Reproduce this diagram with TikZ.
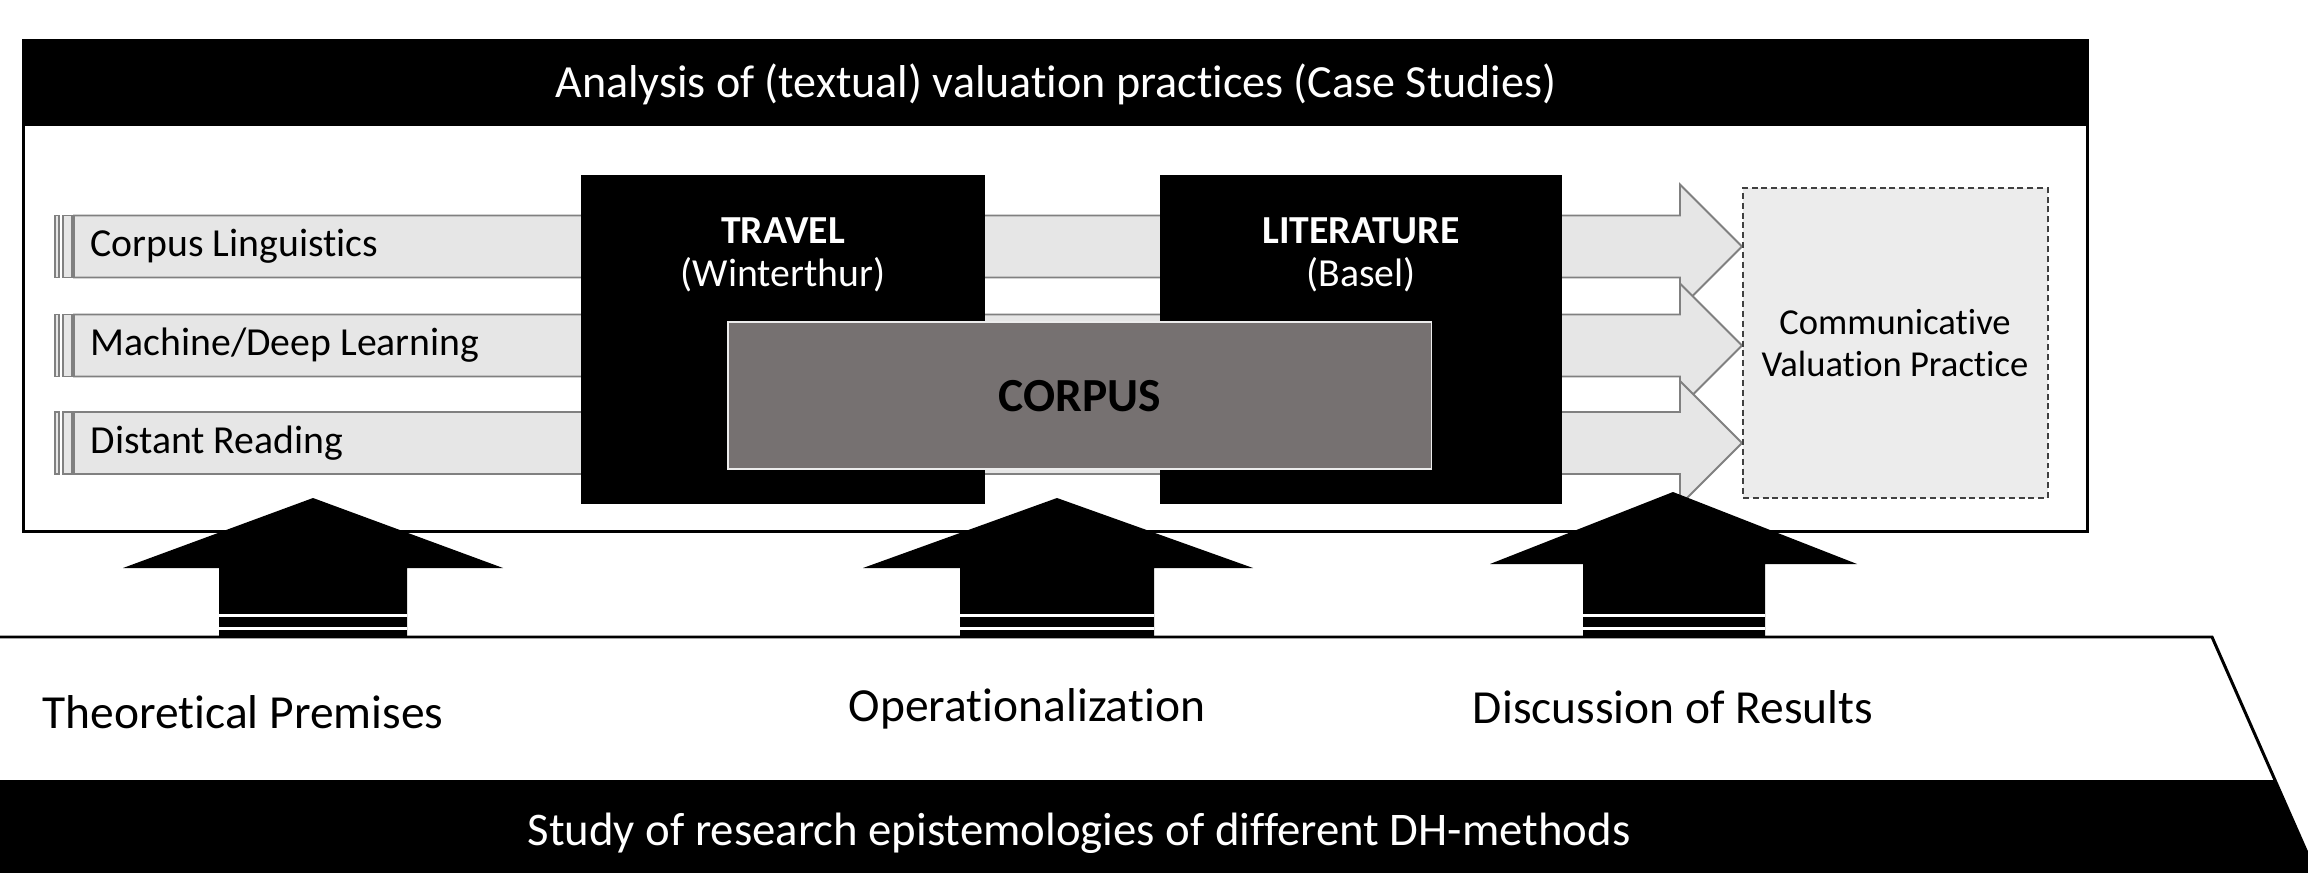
\documentclass[tikz,border=0pt]{standalone}
\usepackage{fontspec}
\setmainfont{Carlito}[Ligatures={NoCommon}]
\definecolor{bargrey}{HTML}{E6E6E6}
\definecolor{baredge}{HTML}{808080}
\definecolor{corpusgrey}{HTML}{767171}
\definecolor{cvpgrey}{HTML}{ECECEC}
\definecolor{cvpedge}{HTML}{404040}
\begin{document}
\begin{tikzpicture}[x=0.01cm,y=-0.01cm,
  barshape/.style={fill=bargrey,draw=baredge,line width=0.55pt,line join=miter},
  barlabel/.style={anchor=west,inner sep=0pt,font=\fontsize{11.3}{13}\selectfont},
  darkbox/.style={fill=black,inner sep=0pt,outer sep=0pt},
  boxhead/.style={text=white,inner sep=0pt,font=\fontsize{11.3}{13}\selectfont\bfseries},
  boxsub/.style={text=white,inner sep=0pt,font=\fontsize{11.3}{13}\selectfont},
  baselabel/.style={inner sep=0pt,font=\fontsize{13.5}{16}\selectfont},
  uparrow/.style={fill=black}]
\useasboundingbox (0,0) rectangle (2308,873);
\clip (0,0) rectangle (2308,873);

% base platform: outlined top, black band at the bottom
\draw[line width=0.85pt] (-10,637) -- (2212,637) -- (2330,905);
\fill (-10,780) -- (2275,780) -- (2330,905) -- (-10,905) -- cycle;
\node[inner sep=0pt,text=white,font=\fontsize{13.3}{16}\selectfont] (base) at (1079,833) {Study of research epistemologies of different DH-methods};

\node[baselabel,anchor=west] (theory) at (42,712) {Theoretical Premises};
\node[baselabel] (oper) at (1027,709) {Operationalization};
\node[baselabel] (disc) at (1673,707) {Discussion of Results};

% case study frame with its title bar
\node[draw,fill=white,line width=0.85pt,inner sep=0pt,minimum width=20.63cm,minimum height=4.9cm] (frame) at (1055.5,286) {};
\node[darkbox,minimum width=20.63cm,minimum height=0.85cm] (header) at (1055.5,83.5) {};
\node[text=white,inner sep=0pt,font=\fontsize{13.1}{15}\selectfont] (title) at (1056,84) {Analysis of (textual) valuation practices (Case Studies)};

% striped method arrows
\foreach \cy in {246.5,345.5,443} {
  \draw[barshape] (74,\cy-31) -- (1680,\cy-31) -- (1680,\cy-62) -- (1742,\cy)
     -- (1680,\cy+62) -- (1680,\cy+31) -- (74,\cy+31) -- cycle;
  \draw[barshape] (63,\cy-31) rectangle (72,\cy+31);
  \draw[barshape] (55,\cy-31) rectangle (59,\cy+31);
}
\node[barlabel] (cl) at (90,246.5) {Corpus Linguistics};
\node[barlabel] (ml) at (90,345.5) {Machine/Deep Learning};
\node[barlabel] (dr) at (90,443) {Distant Reading};

% case studies
\node[darkbox,minimum width=4.04cm,minimum height=3.29cm] (travel) at (783,339.5) {};
\node[darkbox,minimum width=4.02cm,minimum height=3.29cm] (lit) at (1361,339.5) {};
\node[boxhead] (travelT) at (783,231) {TRAVEL};
\node[boxsub] (travelS) at (783,275) {(Winterthur)};
\node[boxhead] (litT) at (1361,231) {LITERATURE};
\node[boxsub] (litS) at (1361,275) {(Basel)};

\node[fill=corpusgrey,draw=white!85!gray,line width=0.4pt,inner sep=0pt,
      minimum width=7.03cm,minimum height=1.47cm] (corpus) at (1079.5,395.5) {};
\node[inner sep=0pt,font=\fontsize{13.5}{16}\selectfont\bfseries] (corpusT) at (1080,396) {CORPUS};

% outcome
\node[fill=cvpgrey,draw=cvpedge,line width=0.55pt,dash pattern=on 1.7pt off 1.1pt,inner sep=0pt,
      minimum width=3.05cm,minimum height=3.1cm] (cvp) at (1895.5,343) {};
\node[align=center,inner sep=0pt,font=\fontsize{10.4}{12}\selectfont] (cvpT) at (1895,343) {Communicative\\Valuation Practice};

% striped up arrows from the base
\foreach \tx/\ty/\wl/\wr/\wy/\sl/\sr in {313/498/123/503/568/219/407,
    1057/498/863/1253/568/960/1154, 1673/492/1490/1857/564/1583/1765} {
  \fill[uparrow] (\tx,\ty) -- (\wr,\wy) -- (\sr,\wy) -- (\sr,637) -- (\sl,637)
     -- (\sl,\wy) -- (\wl,\wy) -- cycle;
  \draw[white,line width=0.6pt] (\sl,615.5) -- (\sr,615.5) (\sl,628.5) -- (\sr,628.5);
}
\end{tikzpicture}
\end{document}
